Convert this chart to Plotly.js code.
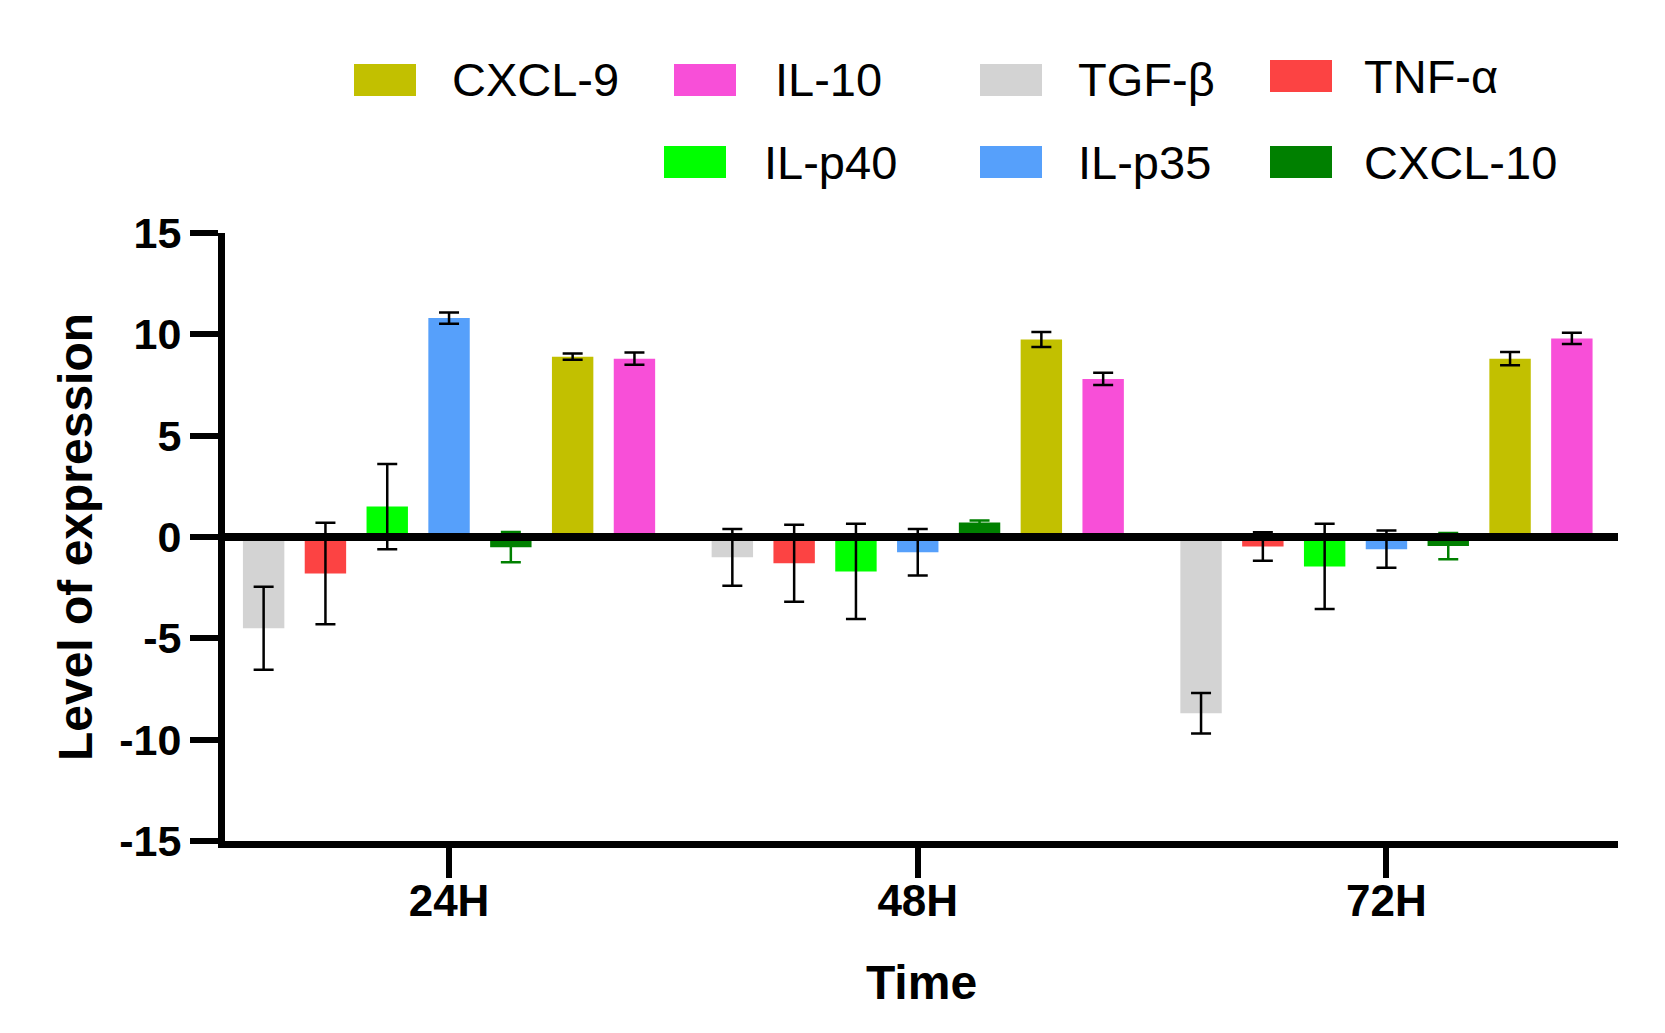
<!DOCTYPE html>
<html>
<head>
<meta charset="utf-8">
<script src="https://cdn.plot.ly/plotly-3.0.1.min.js"></script>
<style>
  html, body { margin: 0; padding: 0; background: #ffffff; }
  #chart { width: 1665px; height: 1033px; }
</style>
</head>
<body>
<div id="chart"></div>
<script>
// time points
var times = ['24H', '48H', '72H'];

// mean level of expression per cytokine
var tgfb   = [-4.5, -1.0, -8.7];
var tnfa   = [-1.8, -1.3, -0.47];
var ilp40  = [1.5, -1.7, -1.45];
var ilp35  = [10.8, -0.75, -0.6];
var cxcl10 = [-0.5, 0.72, -0.45];
var cxcl9  = [8.9, 9.75, 8.8];
var il10   = [8.8, 7.8, 9.8];

// error (sd)
var tgfbErr   = [2.05, 1.4, 1.0];
var tnfaErr   = [2.5, 1.9, 0.7];
var ilp40Err  = [2.1, 2.35, 2.1];
var ilp35Err  = [0.28, 1.15, 0.92];
var cxcl10Err = [0.75, 0.1, 0.65];
var cxcl9Err  = [0.15, 0.37, 0.33];
var il10Err   = [0.3, 0.3, 0.28];

var yTicks = [-15, -10, -5, 0, 5, 10, 15];
var yTickText = ['-15', '-10', '-5', '0', '5', '10', '15'];

// plot box in px (used for the hand-made legend)
var W = 1665, H = 1033;
var mL = 225, mR = 47, mT = 233, mB = 192;
var plotW = W - mL - mR, plotH = H - mT - mB;

function bar(name, y, err, color, errColor) {
    return {
        type: 'bar',
        name: name,
        x: times,
        y: y,
        marker: { color: color, line: { width: 0 } },
        error_y: {
            type: 'data',
            array: err,
            visible: true,
            color: errColor || '#000000',
            thickness: 2.5,
            width: 10
        },
        showlegend: false
    };
}

var data = [
    bar('TGF-β', tgfb, tgfbErr, '#d3d3d3'),
    bar('TNF-α', tnfa, tnfaErr, '#fc4343'),
    bar('IL-p40', ilp40, ilp40Err, '#00ff00'),
    bar('IL-p35', ilp35, ilp35Err, '#56a0fb'),
    bar('CXCL-10', cxcl10, cxcl10Err, '#008000', '#008000'),
    bar('CXCL-9', cxcl9, cxcl9Err, '#c2c000'),
    bar('IL-10', il10, il10Err, '#f84fd8')
];

// legend drawn by hand (two rows, big swatches)
var legNames  = ['CXCL-9', 'IL-10', 'TGF-β', 'TNF-α', 'IL-p40', 'IL-p35', 'CXCL-10'];
var legColors = ['#c2c000', '#f84fd8', '#d3d3d3', '#fc4343', '#00ff00', '#56a0fb', '#008000'];
var legSymX   = [354, 674, 980, 1270, 664, 980, 1270];
var legTextX  = [450, 773, 1076, 1362, 762, 1076, 1362];
var legY      = [80, 80, 80, 76, 162, 162, 162];

var shapes = [];
var annotations = [];
for (var i = 0; i < legNames.length; i++) {
    shapes.push({
        type: 'rect', xref: 'paper', yref: 'paper', layer: 'above',
        x0: (legSymX[i] - mL) / plotW,
        x1: (legSymX[i] + 62 - mL) / plotW,
        y0: (H - mB - (legY[i] + 16)) / plotH,
        y1: (H - mB - (legY[i] - 16)) / plotH,
        fillcolor: legColors[i], line: { width: 0 }
    });
    annotations.push({
        xref: 'paper', yref: 'paper',
        x: (legTextX[i] - mL) / plotW,
        y: (H - mB - legY[i]) / plotH,
        xanchor: 'left', yanchor: 'middle',
        text: legNames[i], showarrow: false,
        font: { family: 'Liberation Sans, Arial', size: 47, color: '#000000' }
    });
}

var layout = {
    width: W,
    height: H,
    margin: { l: mL, r: mR, t: mT, b: mB },
    paper_bgcolor: '#ffffff',
    plot_bgcolor: '#ffffff',
    font: { family: 'Liberation Sans, Arial', color: '#000000' },
    barmode: 'group',
    bargap: 0.077,
    bargroupgap: 0.33,
    showlegend: false,
    xaxis: {
        type: 'category',
        range: [-0.478, 2.494],
        showline: true, linecolor: '#000000', linewidth: 7,
        ticks: 'outside', ticklen: 30, tickwidth: 6, tickcolor: '#000000',
        tickfont: { size: 44, weight: 'bold' },
        ticklabelstandoff: -15,
        showgrid: false, zeroline: false,
        automargin: false,
        title: { text: 'Time', font: { size: 48, weight: 'bold' }, standoff: 44 }
    },
    yaxis: {
        range: [-15, 15],
        tickmode: 'array', tickvals: yTicks, ticktext: yTickText,
        showline: true, linecolor: '#000000', linewidth: 7,
        ticks: 'outside', ticklen: 28, tickwidth: 6, tickcolor: '#000000',
        tickfont: { size: 43, weight: 'bold' },
        showgrid: false,
        zeroline: true, zerolinecolor: '#000000', zerolinewidth: 8,
        zerolinelayer: 'above traces',
        automargin: false,
        title: { text: 'Level of expression', font: { size: 48, weight: 'bold' }, standoff: 14 }
    },
    shapes: shapes,
    annotations: annotations
};

Plotly.newPlot('chart', data, layout, { displayModeBar: false });
</script>
</body>
</html>
